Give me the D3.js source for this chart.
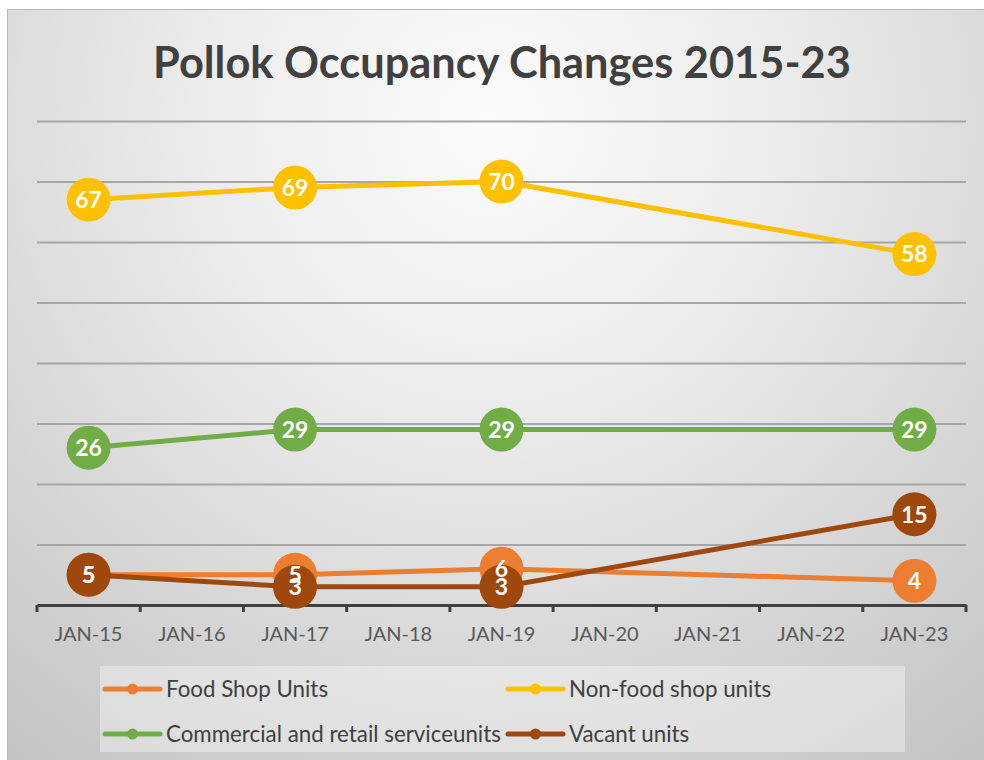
<!DOCTYPE html>
<html>
<head>
<meta charset="utf-8">
<script src="https://cdn.jsdelivr.net/npm/d3@7"></script>
<style>
  html, body { margin: 0; padding: 0; background: #ffffff; }
  svg { display: block; }
</style>
</head>
<body>
<svg id="chart" width="984" height="760"></svg>
<script>
// Survey years on the category axis
const categories = ["JAN-15", "JAN-16", "JAN-17", "JAN-18", "JAN-19", "JAN-20", "JAN-21", "JAN-22", "JAN-23"];

// Unit counts per survey year (null = no survey that year)
const foodShopUnits   = [5, null, 5, null, 6, null, null, null, 4];
const nonFoodUnits    = [67, null, 69, null, 70, null, null, null, 58];
const commercialUnits = [26, null, 29, null, 29, null, null, null, 29];
const vacantUnits     = [5, null, 3, null, 3, null, null, null, 15];

const seriesNames  = ["Food Shop Units", "Non-food shop units", "Commercial and retail serviceunits", "Vacant units"];
const seriesColors = ["#ED7D31", "#FFC000", "#70AD47", "#9E480E"];
const yTicks = [0, 10, 20, 30, 40, 50, 60, 70, 80];

const series = [foodShopUnits, nonFoodUnits, commercialUnits, vacantUnits].map((values, i) => ({
  name: seriesNames[i],
  color: seriesColors[i],
  points: values.map((v, j) => ({ cat: categories[j], value: v })).filter(p => p.value !== null)
}));

const svg = d3.select("#chart");
const W = 984, H = 760;
const FONT = "Lato, 'Open Sans', sans-serif";

// Background panel with soft radial shading
const defs = svg.append("defs");
const grad = defs.append("radialGradient")
  .attr("id", "bg")
  .attr("gradientUnits", "userSpaceOnUse")
  .attr("cx", 490).attr("cy", 120).attr("r", 820);
grad.append("stop").attr("offset", "0%").attr("stop-color", "#fbfbfb");
grad.append("stop").attr("offset", "35%").attr("stop-color", "#ececec");
grad.append("stop").attr("offset", "100%").attr("stop-color", "#c2c2c2");

svg.append("rect")
  .attr("x", 7.5).attr("y", 9.5)
  .attr("width", W + 10).attr("height", H + 10)
  .attr("fill", "url(#bg)")
  .attr("stroke", "#b8b8b8").attr("stroke-width", 1);

// Title, sized to span its slot
const title = svg.append("text")
  .attr("x", 502).attr("y", 78)
  .attr("text-anchor", "middle")
  .attr("font-family", FONT)
  .attr("font-weight", 700)
  .attr("font-size", 44)
  .attr("fill", "#404040")
  .text("Pollok Occupancy Changes 2015-23");
const tw = title.node().getComputedTextLength();
title.attr("font-size", 44 * 698 / tw);

// Scales
const x = d3.scaleBand().domain(categories).range([37, 966]);
const y = d3.scaleLinear().domain([0, 80]).range([605, 121]);
const cx = c => x(c) + x.bandwidth() / 2;

// Horizontal gridlines
const grid = d3.axisLeft(y).tickValues(yTicks.slice(1)).tickSize(-(966 - 37)).tickFormat("");
svg.append("g")
  .attr("transform", "translate(37,0)")
  .call(grid)
  .call(g => g.select(".domain").remove())
  .call(g => g.selectAll("line").attr("stroke", "#a6a6a6").attr("stroke-width", 2));

// Category axis
const xAxis = d3.axisBottom(x).tickSize(0).tickPadding(22);
const gx = svg.append("g")
  .attr("transform", "translate(0,605)")
  .call(xAxis);
gx.select(".domain").attr("stroke", "#404040").attr("stroke-width", 3);
gx.selectAll("text")
  .attr("font-family", FONT)
  .attr("font-size", 20)
  .attr("fill", "#595959");
// Tick marks at category boundaries
const boundaries = categories.map(c => x(c)).concat([x.range()[1]]);
gx.selectAll("line.bound")
  .data(boundaries)
  .join("line")
  .attr("class", "bound")
  .attr("x1", d => d).attr("x2", d => d)
  .attr("y1", 0).attr("y2", 7)
  .attr("stroke", "#404040").attr("stroke-width", 3);

// Lines and markers
const line = d3.line().x(d => cx(d.cat)).y(d => y(d.value));
const plot = svg.append("g");
series.forEach(s => {
  const g = plot.append("g");
  g.append("path")
    .datum(s.points)
    .attr("d", line)
    .attr("fill", "none")
    .attr("stroke", s.color)
    .attr("stroke-width", 5)
    .attr("stroke-linejoin", "round");
  g.selectAll("circle")
    .data(s.points)
    .join("circle")
    .attr("cx", d => cx(d.cat))
    .attr("cy", d => y(d.value))
    .attr("r", 22)
    .attr("fill", s.color);
});

// Data labels on top of all markers
const labels = svg.append("g");
series.forEach(s => {
  labels.selectAll(null)
    .data(s.points)
    .join("text")
    .attr("x", d => cx(d.cat))
    .attr("y", d => y(d.value))
    .attr("dy", "0.36em")
    .attr("text-anchor", "middle")
    .attr("font-family", FONT)
    .attr("font-weight", 700)
    .attr("font-size", 23)
    .attr("fill", "#ffffff")
    .text(d => d.value);
});

// Legend
const legend = svg.append("g");
legend.append("rect")
  .attr("x", 100).attr("y", 666)
  .attr("width", 805).attr("height", 86)
  .attr("fill", "#ffffff").attr("fill-opacity", 0.35);
const legendPos = [[105, 689], [508, 689], [105, 734], [508, 734]];
const legendTexts = [];
series.forEach((s, i) => {
  const [lx, ly] = legendPos[i];
  const item = legend.append("g").attr("transform", `translate(${lx},${ly})`);
  item.append("line")
    .attr("x1", 0).attr("x2", 55).attr("y1", 0).attr("y2", 0)
    .attr("stroke", s.color).attr("stroke-width", 5).attr("stroke-linecap", "round");
  item.append("circle").attr("cx", 27.5).attr("cy", 0).attr("r", 5.5).attr("fill", s.color);
  legendTexts.push(item.append("text")
    .attr("x", 61).attr("y", 0).attr("dy", "0.35em")
    .attr("font-family", FONT)
    .attr("font-size", 20)
    .attr("fill", "#404040")
    .text(s.name));
});
// Fit the longest legend entry to its column width
const longest = legendTexts[2].node().getComputedTextLength();
const legendSize = Math.min(23, 20 * 335 / longest);
legendTexts.forEach(t => t.attr("font-size", legendSize));
</script>
</body>
</html>
